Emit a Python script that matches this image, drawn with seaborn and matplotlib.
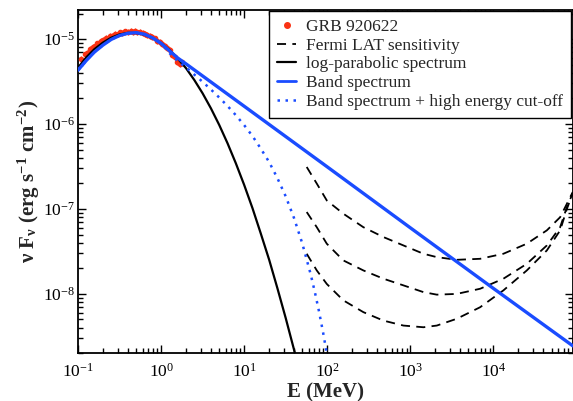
import matplotlib
matplotlib.use("Agg")
import matplotlib.pyplot as plt
import seaborn as sns
from matplotlib.lines import Line2D

# GRB 920622 spectrum points (MeV, erg s^-1 cm^-2)
grb_e = [0.11, 0.12, 0.13, 0.14, 0.15, 0.16, 0.17, 0.18, 0.19, 0.20,
         0.22, 0.24, 0.26, 0.28, 0.30, 0.32, 0.34, 0.37, 0.40, 0.43,
         0.46, 0.49, 0.52, 0.56, 0.60, 0.64, 0.68, 0.73, 0.78, 0.84,
         0.90, 0.96, 1.03, 1.10, 1.18, 1.27, 1.36, 1.46, 1.57, 1.68, 1.80]
grb_f = [5.9e-6, 6.6e-6, 6.9e-6, 7.6e-6, 8.0e-6, 8.3e-6, 8.9e-6, 9.1e-6, 9.6e-6, 9.8e-6,
         1.03e-5, 1.08e-5, 1.10e-5, 1.15e-5, 1.16e-5, 1.20e-5, 1.19e-5, 1.23e-5, 1.21e-5, 1.25e-5,
         1.22e-5, 1.24e-5, 1.20e-5, 1.21e-5, 1.17e-5, 1.16e-5, 1.12e-5, 1.10e-5, 1.05e-5, 1.02e-5,
         9.6e-6, 9.3e-6, 8.7e-6, 8.4e-6, 7.8e-6, 7.4e-6, 6.5e-6, 6.2e-6, 5.4e-6, 5.1e-6, 5.3e-6]

# log-parabolic spectrum
lp_e = [0.1, 0.126, 0.158, 0.2, 0.251, 0.316, 0.398, 0.501, 0.631, 0.794, 1.0, 1.26, 1.58, 2.0,
        2.51, 3.16, 3.98, 5.01, 6.31, 7.94, 10, 12.6, 15.8, 20.0, 25.1, 31.6, 39.8, 41.7]
lp_f = [4.6e-6, 6.1e-6, 7.62e-6, 9.1e-6, 1.038e-5, 1.133e-5, 1.183e-5, 1.18e-5, 1.127e-5, 1.026e-5,
        8.95e-6, 7.46e-6, 5.94e-6, 4.53e-6, 3.30e-6, 2.30e-6, 1.53e-6, 9.75e-7, 5.93e-7, 3.45e-7,
        1.92e-7, 1.02e-7, 5.19e-8, 2.52e-8, 1.17e-8, 5.21e-9, 2.21e-9, 1.85e-9]

# Band spectrum
band_e = [0.1, 0.126, 0.158, 0.2, 0.251, 0.316, 0.398, 0.501, 0.631, 0.794, 1.0, 1.26, 1.58, 2.0,
          10, 100, 1e3, 1e4, 9e4]
band_f = [4.3e-6, 5.6e-6, 7.05e-6, 8.5e-6, 9.9e-6, 1.1e-5, 1.17e-5, 1.19e-5, 1.14e-5, 1.03e-5,
          8.9e-6, 7.3e-6, 6.0e-6, 5.1e-6, 1.62e-6, 3.13e-7, 6.0e-8, 1.16e-8, 2.45e-9]

# Band spectrum + high energy cut-off
cut_e = [0.1, 0.126, 0.158, 0.2, 0.251, 0.316, 0.398, 0.501, 0.631, 0.794, 1.0, 1.26, 1.58, 2.0,
         2.51, 3.16, 3.98, 5.01, 6.31, 7.94, 10, 12.6, 15.8, 20.0, 25.1, 31.6, 39.8, 50.1, 63.1,
         70.8, 79.4, 89.1, 100]
cut_f = [4.3e-6, 5.6e-6, 7.05e-6, 8.5e-6, 9.9e-6, 1.1e-5, 1.17e-5, 1.19e-5, 1.14e-5, 1.03e-5,
         8.9e-6, 6.84e-6, 5.53e-6, 4.62e-6, 3.82e-6, 3.14e-6, 2.55e-6, 2.05e-6, 1.63e-6, 1.27e-6,
         9.7e-7, 7.21e-7, 5.16e-7, 3.56e-7, 2.31e-7, 1.41e-7, 7.83e-8, 3.92e-8, 1.71e-8,
         1.06e-8, 6.28e-9, 3.52e-9, 1.85e-9]

# Fermi LAT sensitivity curves
lat_e = [56.6, 74.8, 98.7, 156, 272, 474, 826, 1436, 2083, 3624, 6918, 13180, 25230, 43950, 63530, 76560, 9e4]
lat_top = [3.12e-7, 1.99e-7, 1.26e-7, 8.8e-8, 6.1e-8, 4.67e-8, 3.72e-8, 2.97e-8, 2.71e-8, 2.52e-8, 2.59e-8,
           2.97e-8, 3.9e-8, 5.6e-8, 8.0e-8, 1.15e-7, 1.58e-7]
lat_mid = [9.2e-8, 6.1e-8, 3.9e-8, 2.48e-8, 1.89e-8, 1.51e-8, 1.26e-8, 1.05e-8, 9.8e-9, 1.0e-8, 1.15e-8,
           1.51e-8, 2.26e-8, 3.72e-8, 6.1e-8, 1.05e-7, 1.53e-7]
lat_low = [2.97e-8, 1.89e-8, 1.31e-8, 8.4e-9, 6.1e-9, 4.85e-9, 4.24e-9, 4.05e-9, 4.24e-9, 5.1e-9, 6.97e-9,
           1.1e-8, 1.89e-8, 3.25e-8, 5.6e-8, 1.0e-7, 1.53e-7]

RED = '#fa3214'
BLUE = '#1a4cff'
DASH = (0, (5, 3.5))
DOT = (0, (1, 2.2))

sns.set_theme(style='ticks')
plt.rcParams['font.family'] = 'serif'
plt.rcParams['font.serif'] = ['Liberation Serif', 'DejaVu Serif']
plt.rcParams['mathtext.fontset'] = 'stix'
plt.rcParams['axes.unicode_minus'] = False

fig = plt.figure(figsize=(5.73, 4.01), dpi=100)
ax = fig.add_axes([0.1361, 0.119, 0.8634, 0.8561])

# data with error bars
ax.errorbar(grb_e, grb_f, xerr=[[e * 0.03 for e in grb_e], [e * 0.03 for e in grb_e]],
            yerr=[f * 0.08 for f in grb_f], fmt='o', ms=3, color=RED, ecolor=RED,
            elinewidth=0.9, capsize=0, zorder=3)

sns.lineplot(x=lp_e, y=lp_f, ax=ax, color='black', lw=1.6, sort=False, zorder=4)
for yy in (lat_top, lat_mid, lat_low):
    sns.lineplot(x=lat_e, y=yy, ax=ax, color='black', lw=1.3, linestyle=DASH, sort=False)
sns.lineplot(x=cut_e, y=cut_f, ax=ax, color=BLUE, lw=1.8, linestyle=DOT, sort=False, zorder=4)
sns.lineplot(x=band_e, y=band_f, ax=ax, color=BLUE, lw=2.4, sort=False, zorder=5)

ax.set_xscale('log')
ax.set_yscale('log')
ax.set_xlim(0.1, 9e4)
ax.set_ylim(2e-9, 2.2e-5)

ax.tick_params(which='both', direction='in', top=True, right=True, labelsize=12.5, colors='black')
ax.tick_params(which='major', length=6, width=1)
ax.tick_params(which='minor', length=3.6, width=1)
ax.tick_params(axis='x', pad=7)
ax.tick_params(axis='y', pad=2)
for s in ax.spines.values():
    s.set_linewidth(1.3)
    s.set_color('black')

ax.set_xlabel('E (MeV)', fontsize=15, fontweight='bold', labelpad=1)
ax.set_ylabel(r'ν F$_{\mathdefault{ν}}$ (erg s$^{\mathdefault{-1}}$ cm$^{\mathdefault{-2}}$)',
              fontsize=15, fontweight='bold', labelpad=1)

handles = [
    Line2D([], [], color=RED, marker='o', ms=4, lw=0),
    Line2D([], [], color='black', lw=1.3, linestyle=DASH),
    Line2D([], [], color='black', lw=1.6),
    Line2D([], [], color=BLUE, lw=2.0),
    Line2D([], [], color=BLUE, lw=1.8, linestyle=DOT),
]
labels = ['GRB 920622', 'Fermi LAT sensitivity', 'log-parabolic spectrum',
          'Band spectrum', 'Band spectrum + high energy cut-off']
leg = ax.legend(handles, labels, loc='upper right', bbox_to_anchor=(0.9966, 0.997),
                borderaxespad=0, fontsize=12.5, frameon=True, fancybox=False,
                edgecolor='black', framealpha=1, labelspacing=0.15, borderpad=0.45,
                handlelength=1.1, handletextpad=0.57)
leg.get_frame().set_linewidth(1.0)

fig.savefig('out.png', dpi=100)
